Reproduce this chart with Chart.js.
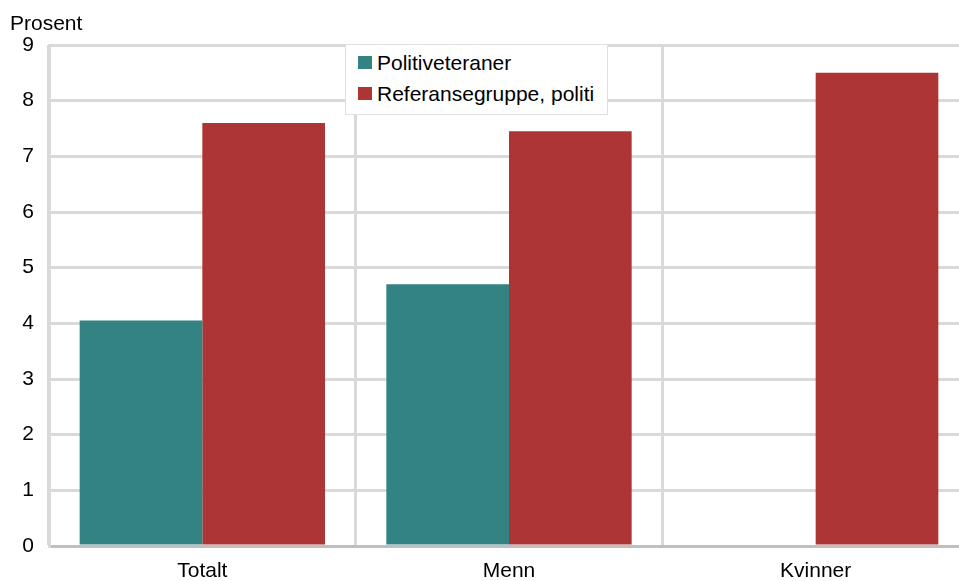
<!DOCTYPE html>
<html lang="no">
  <head>
    <meta charset="utf-8" />
    <title>Politiveteraner</title>
    <style>
      body { margin: 0; background: #fff; font-family: "Liberation Sans", Arial, sans-serif; }
      #wrap { position: relative; width: 959px; height: 581px; overflow: hidden; }
      #ylabel { position: absolute; left: 10px; top: 12px; font-size: 21px; line-height: 21px; color: #000; }
      #legend {
        position: absolute; left: 345px; top: 44px; width: 263px; height: 71px;
        background: #fff; border: 1px solid #e0e0e0; box-sizing: border-box;
        font-size: 21px; color: #000;
      }
      #legend .txt { position: absolute; left: 31px; white-space: nowrap; line-height: 21px; }
      #legend .sq { position: absolute; left: 12px; width: 14px; height: 13px; }
    </style>
  </head>
  <body>
    <div id="wrap">
      <canvas id="myChart" width="969" height="581"></canvas>
      <div id="ylabel">Prosent</div>
      <div id="legend"></div>
    </div>
    <script src="https://cdn.jsdelivr.net/npm/chart.js"></script>
    <script>
      const categories = ['Totalt', 'Menn', 'Kvinner'];
      const veteraner = [4.05, 4.7, null];
      const referanse = [7.6, 7.45, 8.5];
      const yTicks = [0, 1, 2, 3, 4, 5, 6, 7, 8, 9];
      const seriesNames = ['Politiveteraner', 'Referansegruppe, politi'];
      const colors = ['#348383', '#ae3535'];

      Chart.defaults.font.family = '"Liberation Sans", Arial, sans-serif';
      Chart.defaults.font.size = 21;
      Chart.defaults.color = '#000';

      const config = {
        type: 'bar',
        data: {
          labels: categories,
          datasets: [
            { label: seriesNames[0], data: veteraner, backgroundColor: colors[0] },
            { label: seriesNames[1], data: referanse, backgroundColor: colors[1] },
          ],
        },
        options: {
          responsive: false,
          animation: false,
          layout: { padding: { top: 45, right: 0, left: 0, bottom: 0 } },
          datasets: { bar: { categoryPercentage: 0.8, barPercentage: 1.0 } },
          plugins: { legend: { display: false }, tooltip: { enabled: false } },
          scales: {
            x: {
              grid: { color: '#d9d9d9', lineWidth: 3, offset: true, drawTicks: false },
              border: { color: '#bfbfbf', width: 3 },
              ticks: { padding: 13, color: '#000' },
              afterFit: (s) => { s.height = 35; },
            },
            y: {
              min: 0,
              max: 9,
              afterBuildTicks: (s) => { s.ticks = yTicks.map((v) => ({ value: v })); },
              grid: { color: '#d9d9d9', lineWidth: 3, drawTicks: false },
              border: { color: '#d9d9d9', width: 3 },
              ticks: { padding: 15, color: '#000' },
              afterFit: (s) => { s.width = 49; },
            },
          },
        },
      };

      var myChart = new Chart(document.getElementById('myChart'), config);

      // legend box inside the plot
      const legend = document.getElementById('legend');
      seriesNames.forEach((name, i) => {
        const sq = document.createElement('div');
        sq.className = 'sq';
        sq.style.top = (11 + i * 31) + 'px';
        sq.style.background = colors[i];
        legend.appendChild(sq);
        const txt = document.createElement('div');
        txt.className = 'txt';
        txt.style.top = (7 + i * 31) + 'px';
        txt.textContent = name;
        legend.appendChild(txt);
      });
    </script>
  </body>
</html>
